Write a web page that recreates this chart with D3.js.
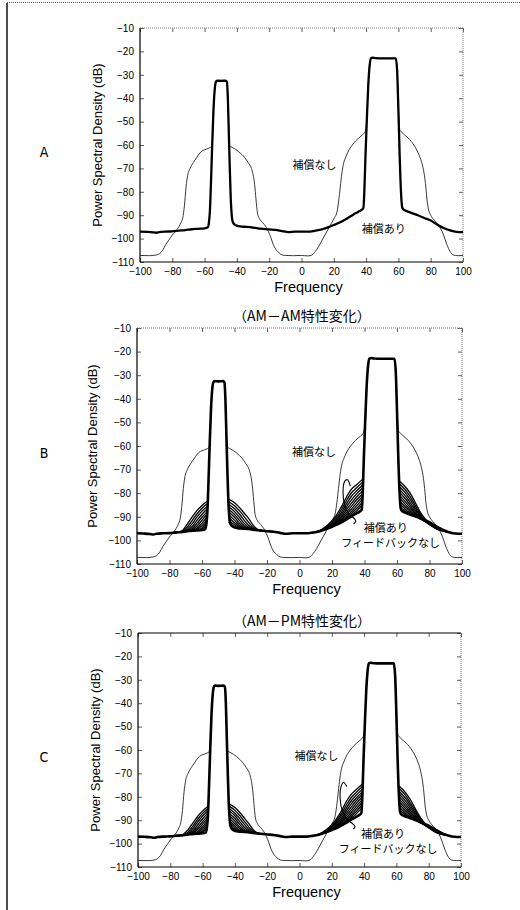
<!DOCTYPE html>
<html>
<head>
<meta charset="utf-8">
<script src="https://cdn.jsdelivr.net/npm/d3@7"></script>
<style>
  body { margin: 0; background: #fff; }
  svg { display: block; font-family: "Liberation Sans", "Noto Sans CJK JP", sans-serif; }
</style>
</head>
<body>
<svg id="fig" width="520" height="910"></svg>
<script>
// ---- data ----
var xTicks = [-100, -80, -60, -40, -20, 0, 20, 40, 60, 80, 100];
var yTicks = [-110, -100, -90, -80, -70, -60, -50, -40, -30, -20, -10];

// 補償なし (thin line)
var uncompensated = [
  [-100,-107.2],[-94,-107.3],[-90,-107],[-88,-106.5],[-86,-105],[-84,-102.5],[-82,-100.5],[-80,-98.5],
  [-78,-97],[-76,-95],[-74.5,-93],[-73.5,-91],[-72.5,-86],[-71.5,-78],[-70.5,-73],[-69,-70],[-67,-67.5],
  [-65,-65.5],[-63,-63.5],[-61,-62.3],[-59,-61.8],[-57,-61.2],[-56,-60.8],[-55.3,-60],[-54.5,-45],
  [-53.7,-36],[-53,-33],[-52.3,-32.5],[-47,-32.5],[-46.2,-33],[-45.6,-40],[-45,-55],[-44.4,-60.5],
  [-43,-61],[-41,-61.8],[-39,-62.8],[-37,-64],[-35,-65.5],[-33,-67.5],[-31,-70],[-30,-72.5],[-29,-77],
  [-28.2,-83],[-27.3,-89],[-26,-91.5],[-24,-93.2],[-22,-95],[-20.5,-97],[-19,-99.5],[-17.5,-102.5],
  [-16,-104.5],[-14,-106],[-12,-107],[-10,-107.2],[-5,-107.3],[0,-107.2],[4,-107.4],[6.5,-107],
  [8.5,-105.5],[10.5,-103.5],[12.5,-101],[14.5,-98.5],[16.5,-96],[18.5,-93.5],[20.5,-91],[22,-88.5],
  [23,-84],[24,-78],[25,-72],[26,-68],[27.5,-65],[29.5,-62],[31.5,-60],[33.5,-58.3],[35.5,-57],
  [37.5,-55.8],[39.3,-54.5],[40.4,-50],[41.3,-35],[42.2,-26],[43,-23],[58.4,-23],[59.2,-28],[60,-45],
  [60.8,-53.5],[62,-54.5],[64,-55.8],[66,-57],[68,-58.5],[70,-60.5],[72,-63],[73.5,-65.5],[75,-69],
  [76,-72.5],[77,-78],[77.8,-84],[78.8,-88],[80,-90],[82,-92],[84,-93.5],[86,-95.5],[88,-98.5],
  [90,-102.5],[92,-105.5],[94,-107],[97,-107.3],[100,-107.2]
];

// 補償あり (thick line)
var compensated = [
  [-100,-97],[-96,-97.1],[-92,-97.3],[-90,-97.5],[-88,-97.2],[-84,-97],[-80,-96.9],[-76,-96.6],
  [-72,-96.4],[-68,-96],[-64,-95.8],[-60,-95.6],[-58,-95.2],[-57.3,-93],[-56.7,-88],[-56,-75],
  [-55.3,-60],[-54.5,-45],[-53.7,-36],[-53,-33],[-52.3,-32.5],[-50,-32.6],[-47,-32.5],[-46.2,-33],
  [-45.6,-40],[-45,-55],[-44.4,-70],[-43.8,-83],[-43.2,-90],[-42.5,-93],[-41,-94.2],[-38,-94.8],
  [-34,-95],[-30,-95.3],[-27,-95.6],[-24,-95.8],[-20,-96.1],[-16,-96.3],[-12,-96.8],[-8,-97.2],
  [-4,-97],[0,-97],[4,-97],[8,-96.7],[12,-96.2],[16,-95.3],[20,-94.2],[24,-93],[28,-91.5],
  [32,-89.8],[35,-88.6],[37,-87.8],[38.3,-87],[38.9,-80],[39.6,-65],[40.4,-50],[41.3,-35],
  [42.2,-26],[43,-23],[44,-22.7],[46,-22.9],[50,-23],[55,-23],[58.4,-23],[59.2,-28],[60,-45],
  [60.8,-65],[61.6,-80],[62.3,-86.5],[63,-87.5],[65,-88.2],[68,-89],[72,-90],[76,-91.2],[80,-92.3],
  [84,-94],[88,-95.5],[92,-96.5],[96,-97.1],[100,-97.2]
];

// フィードバックなし families: shared x grid per shoulder, one row per curve
var fanX_LL = [-57, -60, -63, -66, -69, -72, -75, -78];
var fanX_LR = [-43.6, -40, -37, -34, -31, -28, -25, -22];
var fanX_RL = [39, 35, 32, 29, 26, 22, 18, 14, 10];
var fanX_RR = [61.8, 66, 69, 72, 75, 79, 83, 87, 91];

var fanB_LL = [
  [-83.5,-85.2,-87.3,-90.0,-93.0,-95.8,-96.5,-96.75],
  [-84.6,-86.4,-88.7,-91.5,-94.3,-96.2,-96.55,-96.75],
  [-85.7,-87.6,-90.0,-92.9,-95.2,-96.3,-96.55,-96.75],
  [-86.8,-88.9,-91.4,-94.1,-95.7,-96.4,-96.55,-96.75],
  [-87.9,-90.2,-92.7,-95.0,-96.0,-96.4,-96.55,-96.75],
  [-89.0,-91.5,-93.9,-95.5,-96.1,-96.4,-96.55,-96.75],
  [-90.1,-92.7,-94.8,-95.8,-96.1,-96.4,-96.55,-96.75],
  [-91.2,-93.8,-95.3,-95.9,-96.1,-96.4,-96.55,-96.75],
  [-92.3,-94.7,-95.6,-95.9,-96.1,-96.4,-96.55,-96.75],
  [-93.4,-95.2,-95.7,-95.9,-96.1,-96.4,-96.55,-96.75]
];
var fanB_LR = [
  [-82.5,-84.0,-86.0,-88.5,-91.0,-94.0,-95.6,-95.95],
  [-83.6,-85.3,-87.4,-90.0,-92.6,-94.9,-95.7,-95.95],
  [-84.7,-86.6,-88.8,-91.5,-93.8,-95.3,-95.7,-95.95],
  [-85.8,-87.8,-90.2,-92.8,-94.6,-95.4,-95.7,-95.95],
  [-86.9,-89.0,-91.5,-93.8,-95.0,-95.4,-95.7,-95.95],
  [-88.0,-90.2,-92.7,-94.5,-95.1,-95.4,-95.7,-95.95],
  [-89.1,-91.4,-93.6,-94.8,-95.1,-95.4,-95.7,-95.95],
  [-90.2,-92.5,-94.2,-94.9,-95.1,-95.4,-95.7,-95.95],
  [-91.3,-93.4,-94.6,-95.0,-95.2,-95.4,-95.7,-95.95],
  [-92.4,-94.1,-94.8,-95.0,-95.2,-95.5,-95.7,-95.95]
];
var fanB_RL = [
  [-74.0,-76.5,-78.3,-81.5,-85.5,-90.0,-93.0,-95.2,-96.45],
  [-75.2,-77.8,-79.8,-83.0,-86.8,-90.8,-93.5,-95.4,-96.45],
  [-76.4,-79.1,-81.3,-84.4,-87.9,-91.5,-93.9,-95.5,-96.45],
  [-77.6,-80.4,-82.8,-85.7,-88.9,-92.0,-94.2,-95.6,-96.45],
  [-78.8,-81.7,-84.2,-86.9,-89.7,-92.5,-94.4,-95.65,-96.45],
  [-80.0,-83.0,-85.5,-88.0,-90.4,-92.9,-94.5,-95.7,-96.45],
  [-81.2,-84.3,-86.7,-88.9,-91.0,-93.2,-94.6,-95.7,-96.45],
  [-82.4,-85.5,-87.7,-89.7,-91.5,-93.4,-94.7,-95.75,-96.45],
  [-83.6,-86.6,-88.5,-90.3,-91.9,-93.5,-94.7,-95.75,-96.45],
  [-84.8,-87.6,-89.2,-90.8,-92.1,-93.6,-94.75,-95.75,-96.45]
];
var fanB_RR = [
  [-75.0,-78.0,-81.0,-85.0,-88.8,-92.2,-94.6,-95.9,-96.5],
  [-76.2,-79.3,-82.4,-86.1,-89.5,-92.5,-94.6,-95.8,-96.45],
  [-77.4,-80.6,-83.7,-87.0,-90.0,-92.7,-94.5,-95.7,-96.4],
  [-78.6,-81.9,-84.9,-87.8,-90.4,-92.8,-94.4,-95.6,-96.4],
  [-79.8,-83.1,-85.9,-88.5,-90.7,-92.8,-94.3,-95.5,-96.35],
  [-81.0,-84.3,-86.8,-89.0,-90.9,-92.7,-94.1,-95.4,-96.35],
  [-82.2,-85.4,-87.6,-89.4,-91.0,-92.6,-94.0,-95.3,-96.3],
  [-83.4,-86.4,-88.2,-89.7,-91.0,-92.4,-93.9,-95.2,-96.3],
  [-84.6,-87.3,-88.7,-89.9,-91.0,-92.2,-93.8,-95.2,-96.3],
  [-85.8,-88.0,-89.1,-90.0,-91.0,-92.1,-93.7,-95.1,-96.3]
];

var fanC_LL = [
  [-84.2,-86.0,-88.3,-91.2,-94.0,-96.0,-96.5,-96.75],
  [-85.2,-87.1,-89.6,-92.5,-95.0,-96.3,-96.55,-96.75],
  [-86.2,-88.2,-90.8,-93.6,-95.6,-96.4,-96.55,-96.75],
  [-87.2,-89.4,-92.0,-94.5,-95.9,-96.4,-96.55,-96.75],
  [-88.2,-90.6,-93.1,-95.2,-96.0,-96.4,-96.55,-96.75],
  [-89.2,-91.7,-94.0,-95.6,-96.1,-96.4,-96.55,-96.75],
  [-90.2,-92.8,-94.8,-95.8,-96.1,-96.4,-96.55,-96.75],
  [-91.2,-93.7,-95.3,-95.9,-96.1,-96.4,-96.55,-96.75],
  [-92.2,-94.5,-95.6,-95.9,-96.1,-96.4,-96.55,-96.75],
  [-93.2,-95.1,-95.7,-95.9,-96.1,-96.4,-96.55,-96.75]
];
var fanC_LR = [
  [-83.0,-84.6,-86.7,-89.2,-91.8,-94.5,-95.7,-95.95],
  [-84.0,-85.8,-88.0,-90.6,-93.2,-95.1,-95.7,-95.95],
  [-85.0,-87.0,-89.3,-91.9,-94.2,-95.4,-95.7,-95.95],
  [-86.0,-88.1,-90.6,-93.1,-94.8,-95.4,-95.7,-95.95],
  [-87.0,-89.3,-91.8,-94.0,-95.1,-95.4,-95.7,-95.95],
  [-88.0,-90.4,-92.9,-94.6,-95.1,-95.4,-95.7,-95.95],
  [-89.0,-91.5,-93.7,-94.9,-95.1,-95.4,-95.7,-95.95],
  [-90.0,-92.5,-94.3,-95.0,-95.2,-95.4,-95.7,-95.95],
  [-91.0,-93.3,-94.7,-95.0,-95.2,-95.4,-95.7,-95.95],
  [-92.0,-94.0,-94.9,-95.0,-95.2,-95.5,-95.7,-95.95]
];
var fanC_RL = [
  [-74.5,-77.0,-79.0,-82.0,-86.0,-90.3,-93.2,-95.3,-96.45],
  [-75.6,-78.2,-80.4,-83.5,-87.2,-91.0,-93.6,-95.4,-96.45],
  [-76.7,-79.4,-81.8,-84.8,-88.2,-91.6,-93.9,-95.5,-96.45],
  [-77.8,-80.6,-83.1,-86.0,-89.1,-92.1,-94.2,-95.6,-96.45],
  [-78.9,-81.8,-84.4,-87.1,-89.9,-92.6,-94.4,-95.65,-96.45],
  [-80.0,-83.0,-85.6,-88.1,-90.5,-92.9,-94.5,-95.7,-96.45],
  [-81.1,-84.2,-86.7,-89.0,-91.0,-93.2,-94.6,-95.7,-96.45],
  [-82.2,-85.3,-87.6,-89.7,-91.5,-93.4,-94.7,-95.75,-96.45],
  [-83.3,-86.4,-88.4,-90.3,-91.9,-93.5,-94.7,-95.75,-96.45],
  [-84.4,-87.4,-89.1,-90.8,-92.1,-93.6,-94.75,-95.75,-96.45]
];
var fanC_RR = [
  [-75.5,-78.5,-81.6,-85.5,-89.0,-92.3,-94.7,-95.9,-96.5],
  [-76.6,-79.7,-82.9,-86.4,-89.6,-92.5,-94.6,-95.8,-96.45],
  [-77.7,-80.9,-84.0,-87.2,-90.1,-92.7,-94.5,-95.7,-96.4],
  [-78.8,-82.1,-85.1,-87.9,-90.4,-92.8,-94.4,-95.6,-96.4],
  [-79.9,-83.2,-86.0,-88.5,-90.7,-92.8,-94.3,-95.5,-96.35],
  [-81.0,-84.3,-86.9,-89.0,-90.9,-92.7,-94.1,-95.4,-96.35],
  [-82.1,-85.3,-87.6,-89.4,-91.0,-92.6,-94.0,-95.3,-96.3],
  [-83.2,-86.3,-88.2,-89.7,-91.0,-92.4,-93.9,-95.2,-96.3],
  [-84.3,-87.2,-88.7,-89.9,-91.0,-92.2,-93.8,-95.2,-96.3],
  [-85.4,-87.9,-89.1,-90.0,-91.0,-92.1,-93.7,-95.1,-96.3]
];

// loop marks around the families (data coordinates)
var curlB = [[31.3,-77],[29.5,-74.3],[27.8,-75],[26.8,-80],[28,-85.5],[31,-89.2],[33.8,-90.8],[34.6,-92],[33.3,-93]];
var curlC = [[29.3,-75.7],[27.2,-73.8],[25.6,-76],[25.1,-80.5],[26.8,-86.5],[30,-90],[32.8,-91.5],[34.4,-92.8],[33.3,-93.8]];

var svg = d3.select("#fig");

// frame of the sheet
svg.append("line").attr("x1", 7).attr("x2", 7).attr("y1", 3).attr("y2", 910)
  .attr("stroke", "#000").attr("stroke-width", 1.4);
svg.append("line").attr("x1", 7).attr("x2", 520).attr("y1", 2.5).attr("y2", 2.5)
  .attr("stroke", "#666").attr("stroke-width", 1).attr("stroke-dasharray", "1,1");

function drawPanel(p) {
  var x = d3.scaleLinear().domain([-100, 100]).range([p.l, p.r]);
  var y = d3.scaleLinear().domain([-110, -10]).range([p.b, p.t]);
  var g = svg.append("g");

  var clipId = "clip" + p.letter;
  svg.append("clipPath").attr("id", clipId).append("rect")
    .attr("x", p.l).attr("y", p.t).attr("width", p.r - p.l).attr("height", p.b - p.t);

  // axes, ticks pointing inward
  g.append("g").attr("transform", "translate(0," + p.b + ")")
    .call(d3.axisBottom(x).tickValues(xTicks).tickFormat(d3.format("d"))
      .tickSizeInner(-4).tickSizeOuter(0).tickPadding(6));
  g.append("g").attr("transform", "translate(" + p.l + ",0)")
    .call(d3.axisLeft(y).tickValues(yTicks).tickFormat(d3.format("d"))
      .tickSizeInner(-4).tickSizeOuter(0).tickPadding(6));
  g.append("g").attr("transform", "translate(0," + p.t + ")")
    .call(d3.axisTop(x).tickValues(xTicks).tickFormat("").tickSizeInner(-4).tickSizeOuter(0));
  g.append("g").attr("transform", "translate(" + p.r + ",0)")
    .call(d3.axisRight(y).tickValues(yTicks).tickFormat("").tickSizeInner(-4).tickSizeOuter(0));
  g.selectAll(".domain").remove();
  g.selectAll(".tick line").attr("stroke", "#333").attr("stroke-width", 0.8);
  g.selectAll(".tick text").attr("fill", "#000")
    .style("font-size", "10px").style("font-family", "'Liberation Sans', sans-serif");

  // box
  g.append("line").attr("x1", p.l).attr("x2", p.l).attr("y1", p.t).attr("y2", p.b)
    .attr("stroke", "#000").attr("stroke-width", 1.2);
  g.append("line").attr("x1", p.l).attr("x2", p.r).attr("y1", p.b).attr("y2", p.b)
    .attr("stroke", "#000").attr("stroke-width", 1.2);
  g.append("line").attr("x1", p.l).attr("x2", p.r).attr("y1", p.t).attr("y2", p.t)
    .attr("stroke", p.solidTop ? "#000" : "#777").attr("stroke-width", 1)
    .attr("stroke-dasharray", p.solidTop ? null : "1,1");
  g.append("line").attr("x1", p.r).attr("x2", p.r).attr("y1", p.t).attr("y2", p.b)
    .attr("stroke", "#777").attr("stroke-width", 1).attr("stroke-dasharray", "1,1");

  var line = d3.line().x(d => x(d[0])).y(d => y(d[1])).curve(d3.curveMonotoneX);
  var plot = g.append("g").attr("clip-path", "url(#" + clipId + ")");

  plot.append("path").datum(uncompensated).attr("d", line)
    .attr("fill", "none").attr("stroke", "#222").attr("stroke-width", 0.9);

  if (p.fans) {
    p.fans.forEach(function (f) {
      f.rows.forEach(function (row) {
        var pts = f.xs.map((xv, i) => [xv, row[i]]);
        plot.append("path").datum(pts).attr("d", line)
          .attr("fill", "none").attr("stroke", "#000").attr("stroke-width", 1.3);
      });
    });
  }

  plot.append("path").datum(compensated).attr("d", line)
    .attr("fill", "none").attr("stroke", "#000").attr("stroke-width", p.fans ? 2.6 : 2.3)
    .attr("stroke-linejoin", "round");

  if (p.curl) {
    var cl = d3.line().x(d => x(d[0])).y(d => y(d[1])).curve(d3.curveCatmullRom);
    g.append("path").datum(p.curl).attr("d", cl)
      .attr("fill", "none").attr("stroke", "#000").attr("stroke-width", 1.1);
  }

  p.notes.forEach(function (n) {
    g.append("text").attr("x", x(n[0])).attr("y", y(n[1]))
      .attr("dominant-baseline", "central")
      .style("font-family", "'Noto Sans CJK JP', sans-serif")
      .style("font-size", "11px").text(n[2]);
  });

  // labels
  g.append("text").attr("x", (p.l + p.r) / 2 + 7).attr("y", p.b + 25)
    .attr("text-anchor", "middle").attr("dominant-baseline", "central")
    .style("font-size", "14.5px").text("Frequency");
  g.append("text")
    .attr("transform", "translate(" + p.ylx + "," + ((p.t + p.b) / 2) + ") rotate(-90)")
    .attr("text-anchor", "middle").attr("dominant-baseline", "central")
    .style("font-size", "13px").text("Power Spectral Density (dB)");
  g.append("text").attr("x", 44).attr("y", (p.t + p.b) / 2 + 7)
    .attr("text-anchor", "middle").attr("dominant-baseline", "central")
    .style("font-family", "'Liberation Sans Narrow', 'DejaVu Sans Condensed', sans-serif")
    .style("font-size", "14px").text(p.letter);
  if (p.title) {
    g.append("text").attr("x", 302).attr("y", p.t - 13)
      .attr("text-anchor", "middle").attr("dominant-baseline", "central")
      .style("font-family", "'Noto Sans CJK JP', sans-serif")
      .style("font-size", "14px").text(p.title);
  }
}

drawPanel({
  letter: "A", l: 140, r: 463, t: 28, b: 262, ylx: 97,
  notes: [[-5.5, -68, "補償なし"], [37.3, -95.5, "補償あり"]]
});
drawPanel({
  letter: "B", l: 137, r: 462, t: 328, b: 564, ylx: 92,
  title: "（AM－AM特性変化）",
  fans: [{xs: fanX_LL, rows: fanB_LL}, {xs: fanX_LR, rows: fanB_LR},
         {xs: fanX_RL, rows: fanB_RL}, {xs: fanX_RR, rows: fanB_RR}],
  curl: curlB,
  notes: [[-4.6, -62, "補償なし"], [39.5, -94.5, "補償あり"], [25.7, -100.8, "フィードバックなし"]]
});
drawPanel({
  letter: "C", l: 138, r: 461, t: 633, b: 867, ylx: 95, solidTop: true,
  title: "（AM－PM特性変化）",
  fans: [{xs: fanX_LL, rows: fanC_LL}, {xs: fanX_LR, rows: fanC_LR},
         {xs: fanX_RL, rows: fanC_RL}, {xs: fanX_RR, rows: fanC_RR}],
  curl: curlC,
  notes: [[-3.1, -62.1, "補償なし"], [38.1, -95.6, "補償あり"], [24.3, -102, "フィードバックなし"]]
});
</script>
</body>
</html>
